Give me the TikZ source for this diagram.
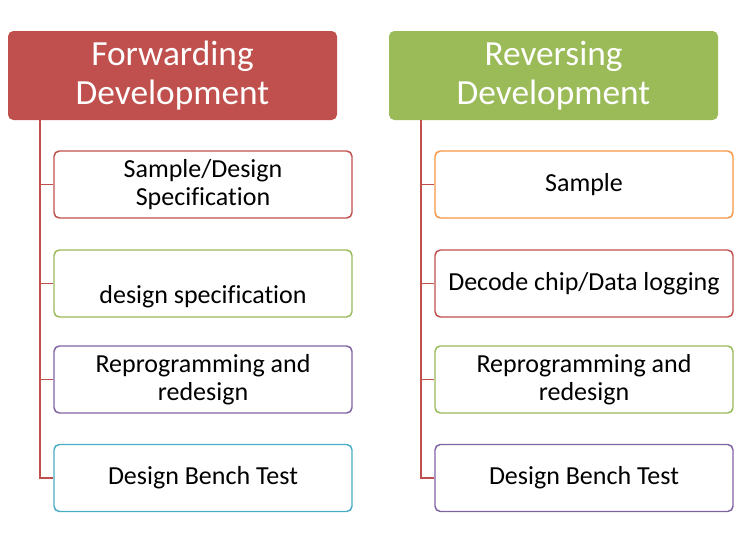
\documentclass[tikz,border=0pt]{standalone}
\usepackage{fontspec}
\setmainfont[Ligatures=NoCommon]{Carlito}
\usetikzlibrary{positioning}

\definecolor{redacc}{RGB}{192,80,77}
\definecolor{greenacc}{RGB}{155,187,89}
\definecolor{purpleacc}{RGB}{128,100,162}
\definecolor{aquaacc}{RGB}{75,172,198}
\definecolor{orangeacc}{RGB}{247,150,70}

\tikzset{
  head/.style={fill=#1, draw=none, rounded corners=4pt, minimum width=246.75pt, minimum height=66.75pt,
    text=white, align=center, font=\fontsize{26.5}{29.5}\selectfont, inner sep=0pt},
  item/.style={draw=#1, line width=1.1pt, fill=white, rounded corners=4pt, minimum width=223.5pt, minimum height=50.25pt,
    align=center, font=\fontsize{19.5}{21}\selectfont, inner sep=0pt},
  stem/.style={draw=redacc, line width=1.4pt}
}

\begin{document}
\begin{tikzpicture}[x=0.75pt,y=0.75pt,yscale=-1,xscale=1]
\useasboundingbox (0,0) rectangle (750,553);

%Forwarding column
\draw (172.5,75.5) node [head=redacc] (fhead) {Forwarding\\Development};
\draw (203,184.5) node [item=redacc] (f1) {Sample/Design\\Specification};
\draw (203,283.5) node [item=greenacc] (f2) {\phantom{X}\\design specification};
\draw (203,379.5) node [item=purpleacc] (f3) {Reprogramming and\\redesign};
\draw (203,478) node [item=aquaacc] (f4) {Design Bench Test};

%Reversing column
\draw (553.5,75.5) node [head=greenacc] (rhead) {Reversing\\Development};
\draw (584,184.5) node [item=orangeacc] (r1) {Sample};
\draw (584,283.5) node [item=redacc] (r2) {Decode chip/Data logging};
\draw (584,379.5) node [item=greenacc] (r3) {Reprogramming and\\redesign};
\draw (584,478) node [item=purpleacc] (r4) {Design Bench Test};

%Stems
\coordinate (ftop) at (40,120);
\coordinate (rtop) at (421,120);
\draw [stem] (ftop) |- (f4.west);
\foreach \n in {f1,f2,f3} \draw [stem] (ftop |- \n.west) -- (\n.west);
\draw [stem] (rtop) |- (r4.west);
\foreach \n in {r1,r2,r3} \draw [stem] (rtop |- \n.west) -- (\n.west);

\end{tikzpicture}
\end{document}
